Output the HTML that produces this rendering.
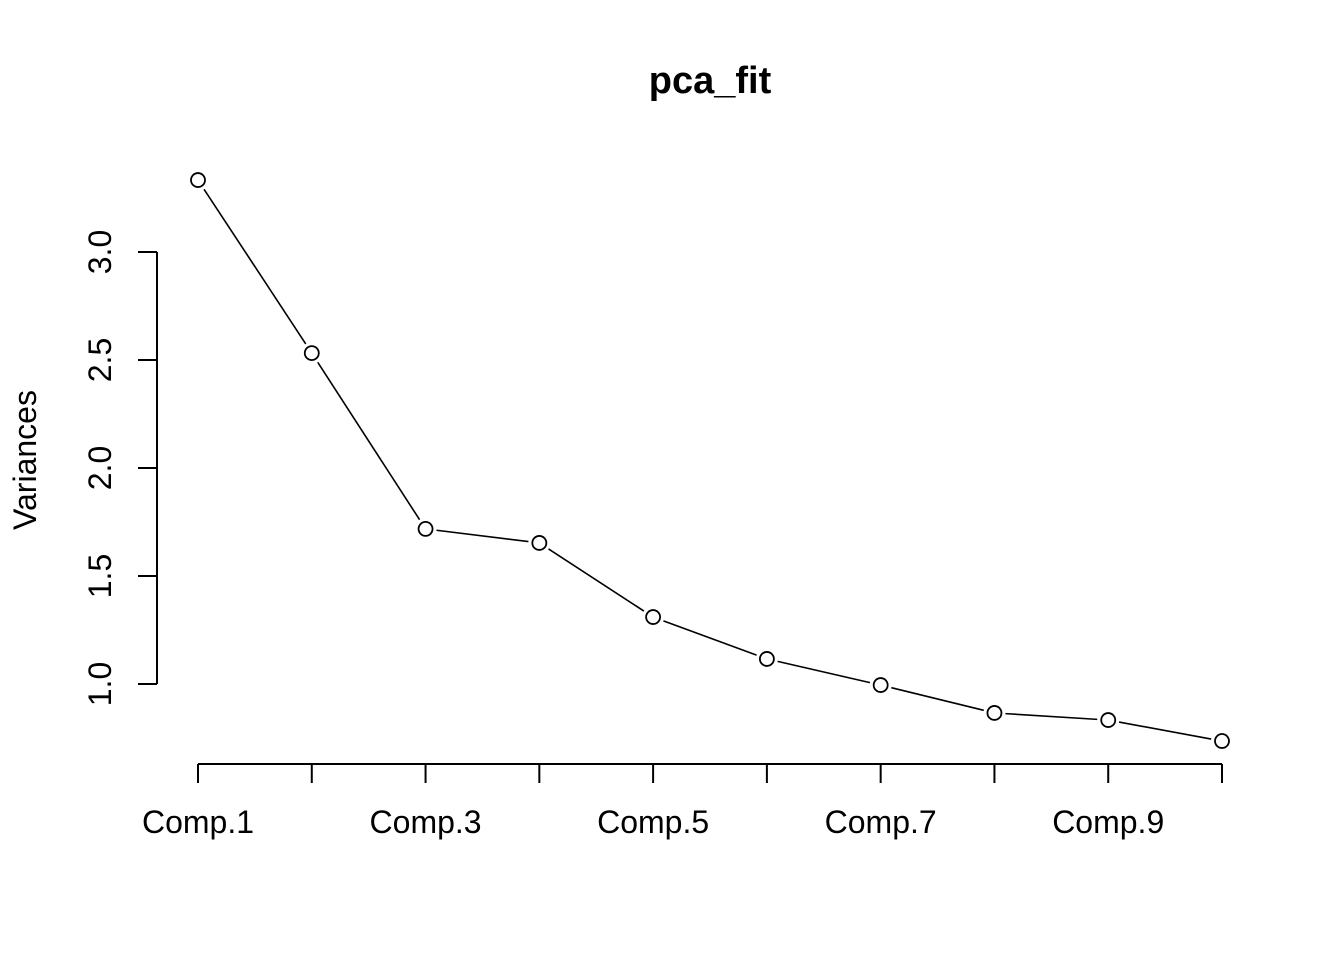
<!DOCTYPE html>
<html><head><meta charset="utf-8"><style>
body{margin:0;background:#fff}
svg{display:block;font-family:"Liberation Sans",sans-serif}
</style></head><body>
<svg id="chart" width="1344" height="960" xmlns="http://www.w3.org/2000/svg">
<rect width="1344" height="960" fill="#fff"/>
<text x="710" y="93" text-anchor="middle" font-size="38" font-weight="bold">pca_fit</text>
<text transform="translate(36,460) rotate(-90)" text-anchor="middle" font-size="32">Variances</text>
<g id="axes"></g>
<g id="marks"></g>
</svg>
<script>
const categories=["Comp.1","Comp.2","Comp.3","Comp.4","Comp.5","Comp.6","Comp.7","Comp.8","Comp.9","Comp.10"];
const variances=[3.333,2.532,1.718,1.653,1.310,1.116,0.995,0.866,0.833,0.736];
const yTicks=[1.0,1.5,2.0,2.5,3.0];
const yTickLabels=["1.0","1.5","2.0","2.5","3.0"];
const xLabelIdx=[0,2,4,6,8];
const NS="http://www.w3.org/2000/svg";
const x=i=>198+i*(1222-198)/9;
const y=v=>684-(v-1)*216;
function mk(tag,attrs,parent){const e=document.createElementNS(NS,tag);for(const k in attrs)e.setAttribute(k,attrs[k]);parent.appendChild(e);return e;}
const axes=document.getElementById('axes'),marks=document.getElementById('marks');
const st={stroke:"#000","stroke-width":2,fill:"none"};
let e=mk('line',Object.assign({x1:x(0),x2:x(9),y1:764,y2:764},st),axes);


categories.forEach((c,i)=>{
  const t=mk('line',Object.assign({x1:x(i),x2:x(i),y1:764,y2:783},st),axes);
  
  
});
xLabelIdx.forEach(i=>{
  const t=mk('text',{x:x(i),y:833,"text-anchor":"middle","font-size":32},axes);
  t.textContent=categories[i];
  
  
});
e=mk('line',Object.assign({x1:157,x2:157,y1:y(yTicks[yTicks.length-1]),y2:y(yTicks[0])},st),axes);


yTicks.forEach((v,i)=>{
  const t=mk('line',Object.assign({x1:138,x2:157,y1:y(v),y2:y(v)},st),axes);
  
  
  const l=mk('text',{transform:`translate(111,${y(v)}) rotate(-90)`,"text-anchor":"middle","font-size":32},axes);
  l.textContent=yTickLabels[i];
  
  
});
const gap=11;
for(let i=0;i<variances.length-1;i++){
  const x1=x(i),y1=y(variances[i]),x2=x(i+1),y2=y(variances[i+1]);
  const d=Math.hypot(x2-x1,y2-y1),ux=(x2-x1)/d,uy=(y2-y1)/d;
  const s=mk('line',{x1:x1+ux*gap,y1:y1+uy*gap,x2:x2-ux*gap,y2:y2-uy*gap,stroke:"#000","stroke-width":1.6},marks);
  
  
}
variances.forEach((v,i)=>{
  const c=mk('circle',{cx:x(i),cy:y(v),r:7,fill:"#fff",stroke:"#000","stroke-width":1.8},marks);
  
  
});
</script>
</body></html>
